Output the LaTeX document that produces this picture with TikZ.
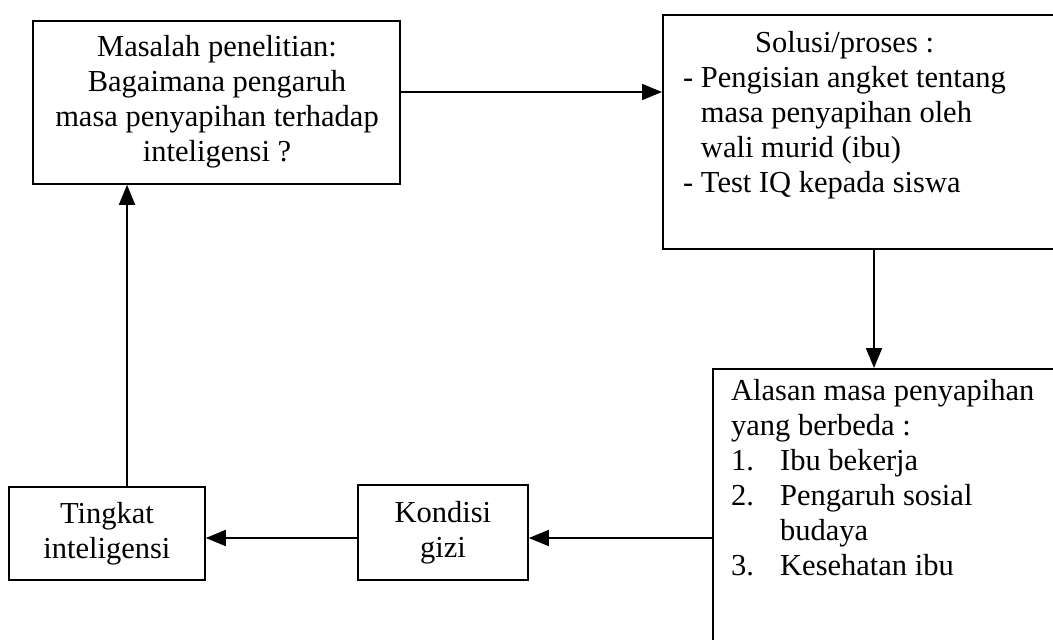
\documentclass[tikz,border=0pt]{standalone}
\usepackage{fontspec}
\setmainfont{Liberation Serif}
\usetikzlibrary{arrows.meta}
\begin{document}
\begin{tikzpicture}[x=1pt,y=-1pt,
  box/.style={draw, line width=1.8pt, inner sep=0pt, anchor=north west},
  txt/.style={font=\fontsize{30.5}{35}\selectfont, inner sep=0pt},
  arr/.style={line width=1.8pt, -{Triangle[length=20pt,width=16pt]}}]
\useasboundingbox (0,0) rectangle (1053,640);
% boxes
\node[box, minimum width=367pt, minimum height=163pt] (tl) at (32,20) {};
\node[box, minimum width=400pt, minimum height=234pt] (tr) at (662,14) {};
\node[box, minimum width=350pt, minimum height=300pt] (br) at (712,368) {};
\node[box, minimum width=196pt, minimum height=93pt] (tk) at (8,486) {};
\node[box, minimum width=170pt, minimum height=95pt] (kg) at (357,484) {};
% texts
\node[txt, align=center] (tlt) at (217,102) {Masalah penelitian:\\Bagaimana pengaruh\\masa penyapihan terhadap\\inteligensi ?};
\node[txt, align=left, anchor=north west] (trt) at (683,31) {\hspace*{72pt}Solusi/proses :\\- Pengisian angket tentang\\\phantom{- }masa penyapihan oleh\\\phantom{- }wali murid (ibu)\\- Test IQ kepada siswa};
\node[txt, align=left, anchor=north west] (brt) at (731,379) {Alasan masa penyapihan\\yang berbeda :\\\makebox[49pt][l]{1.}Ibu bekerja\\\makebox[49pt][l]{2.}Pengaruh sosial\\\hspace*{49pt}budaya\\\makebox[49pt][l]{3.}Kesehatan ibu};
\node[txt, align=center] (tkt) at (tk.center) {Tingkat\\inteligensi};
\node[txt, align=center] (kgt) at (kg.center) {Kondisi\\gizi};
% connectors
\coordinate (y1) at (0,92);
\coordinate (x2) at (874,0);
\coordinate (y3) at (0,538);
\coordinate (x4) at (127,0);
\draw[arr] (tl.east |- y1) -- (tr.west |- y1);
\draw[arr] (tr.south -| x2) -- (br.north -| x2);
\draw[arr] (br.west |- y3) -- (kg.east |- y3);
\draw[arr] (kg.west |- y3) -- (tk.east |- y3);
\draw[arr] (tk.north -| x4) -- (tl.south -| x4);
\end{tikzpicture}
\end{document}
